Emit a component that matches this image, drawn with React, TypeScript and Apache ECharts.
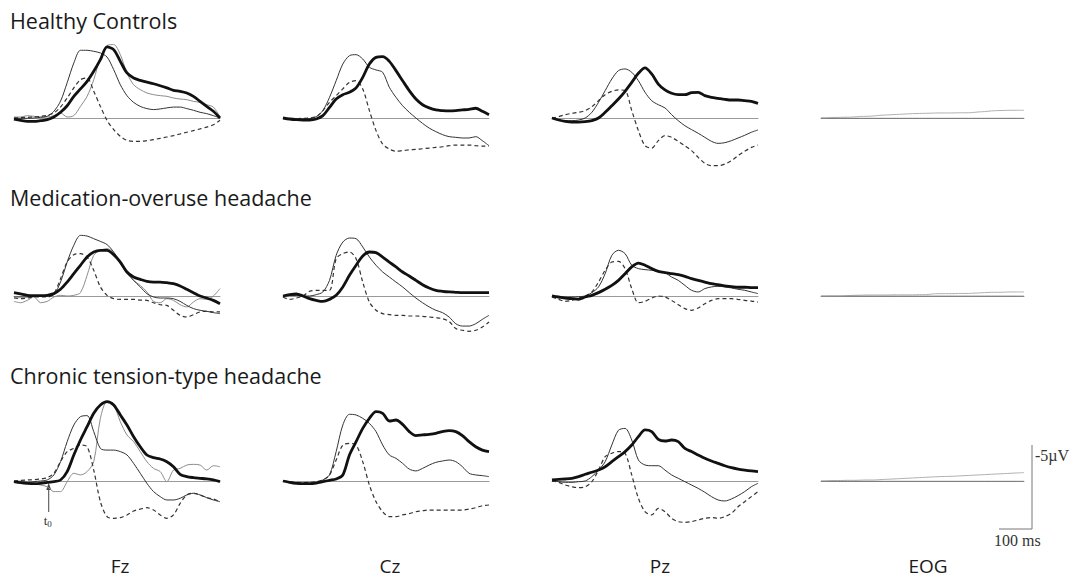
import React, { useEffect, useRef } from "react";
import * as echarts from "echarts";

// time axis (ms), 20 ms steps
const T = [-100,-80,-60,-40,-20,0,20,40,60,80,100,120,140,160,180,200,220,240,260,280,300,320,340,360,380,400,420,440,460,480,500,520];

const GROUPS = ["Healthy Controls", "Medication-overuse headache", "Chronic tension-type headache"];
const CHANNELS = ["Fz", "Cz", "Pz", "EOG"];

// ---- Healthy Controls (µV, negative up)
const HC_FZ_THIN = [0,0.02,0.02,0,-0.04,-0.1,-0.4,-1.0,-2.1,-3.27,-4.03,-4.03,-3.97,-3.87,-3.63,-2.88,-1.98,-1.33,-0.93,-0.69,-0.56,-0.5,-0.54,-0.6,-0.65,-0.65,-0.56,-0.46,-0.34,-0.26,-0.14,0];
const HC_FZ_THICK = [0.06,0.14,0.2,0.2,0.16,0.1,-0.06,-0.34,-0.73,-1.29,-1.73,-2.18,-2.78,-3.47,-4.23,-4.07,-3.37,-2.68,-2.38,-2.24,-2.14,-2.04,-1.92,-1.79,-1.65,-1.59,-1.49,-1.29,-0.99,-0.69,-0.4,0];
const HC_FZ_GRAY = [-0.06,-0.06,-0.14,-0.1,-0.06,-0.06,-0.14,-0.3,-0.06,-0.14,-0.69,-1.29,-2.28,-3.59,-4.31,-4.37,-3.77,-2.68,-1.98,-1.69,-1.49,-1.39,-1.33,-1.29,-1.19,-1.13,-1.09,-0.99,-0.93,-0.79,-0.65,-0.06];
const HC_FZ_DASH = [0,-0.02,-0.04,-0.06,-0.1,-0.16,-0.3,-0.65,-1.19,-1.79,-2.28,-2.38,-1.59,-0.69,0.14,0.69,1.09,1.33,1.39,1.39,1.35,1.29,1.21,1.13,1.05,0.95,0.85,0.75,0.65,0.54,0.4,0.14];
const HC_CZ_THIN = [0,0.04,0.06,0.06,0.04,-0.08,-0.44,-1.23,-2.22,-3.21,-3.71,-3.77,-3.51,-3.02,-2.86,-2.72,-1.83,-1.23,-0.73,-0.34,0,0.32,0.6,0.81,0.99,1.11,1.15,1.19,1.19,1.11,1.35,1.65];
const HC_CZ_THICK = [0,0.06,0.1,0.12,0.12,0.06,-0.14,-0.63,-1.13,-1.39,-1.53,-1.79,-2.42,-3.21,-3.61,-3.65,-3.37,-2.82,-2.22,-1.63,-1.13,-0.79,-0.6,-0.48,-0.44,-0.42,-0.44,-0.48,-0.52,-0.58,-0.4,-0.2];
const HC_CZ_DASH = [0,0.04,0.04,0.02,0,-0.08,-0.44,-0.93,-1.33,-1.73,-2.12,-2.22,-1.73,-0.44,0.75,1.55,1.85,1.98,1.94,1.9,1.87,1.83,1.79,1.75,1.71,1.65,1.61,1.61,1.61,1.65,1.67,1.67];
const HC_PZ_THIN = [0,0.12,0.16,0.16,0.12,0,-0.34,-0.93,-1.63,-2.32,-2.82,-2.92,-2.72,-2.22,-1.53,-1.03,-0.79,-0.6,-0.2,0.16,0.46,0.69,0.91,1.15,1.39,1.51,1.47,1.35,1.19,1.03,0.85,0.71];
const HC_PZ_THICK = [0,0.12,0.2,0.24,0.24,0.22,0.16,0,-0.34,-0.73,-1.13,-1.59,-2.12,-2.66,-2.98,-2.62,-2.02,-1.67,-1.47,-1.39,-1.39,-1.51,-1.53,-1.33,-1.23,-1.17,-1.11,-1.07,-1.07,-1.03,-0.99,-0.87];
const HC_PZ_DASH = [0,-0.08,-0.2,-0.28,-0.34,-0.44,-0.67,-1.03,-1.39,-1.59,-1.67,-1.63,-0.44,0.75,1.65,1.79,1.35,1.05,1.15,1.39,1.65,1.94,2.34,2.7,2.84,2.84,2.74,2.54,2.24,1.98,1.75,1.61];
const HC_EOG_UP = [-0.02,-0.02,-0.03,-0.04,-0.05,-0.06,-0.09,-0.1,-0.12,-0.16,-0.18,-0.2,-0.22,-0.24,-0.26,-0.27,-0.28,-0.29,-0.3,-0.3,-0.3,-0.31,-0.31,-0.32,-0.36,-0.38,-0.42,-0.44,-0.45,-0.46,-0.46,-0.46];
const HC_EOG_FLAT = [0.02,0.02,0.02,0.02,0.02,0.02,0.02,0.02,0.02,0.02,0.02,0.02,0.02,0.02,0.02,0.02,0.02,0.02,0.02,0.02,0.02,0.02,0.02,0.02,0.02,0.02,0.02,0.02,0.02,0.02,0.02,0.02];

// ---- Medication-overuse headache
const MOH_FZ_THIN = [0.06,0.06,0.06,0.02,0,0,-0.08,-0.83,-2.02,-3.02,-3.61,-3.57,-3.41,-3.25,-3.06,-2.62,-2.02,-1.43,-0.93,-0.54,-0.14,0.06,0.12,0.12,0.16,0.32,0.56,0.75,0.85,0.91,0.99,1.05];
const MOH_FZ_THICK = [-0.2,-0.12,-0.04,-0.02,-0.02,-0.04,-0.14,-0.4,-0.83,-1.33,-1.83,-2.32,-2.62,-2.72,-2.72,-2.46,-2.02,-1.43,-1.13,-0.99,-0.87,-0.83,-0.83,-0.79,-0.73,-0.6,-0.4,-0.2,0,0.12,0.26,0.46];
const MOH_FZ_GRAY = [0.32,0.4,0.26,0.06,0.4,0.32,0.06,-0.04,0,-0.04,-0.2,-1.23,-2.42,-2.72,-2.82,-2.58,-1.93,-1.33,-0.93,-0.63,-0.24,0.32,0.4,0.16,0.26,0.52,0.65,0.36,0.16,0.2,0,-0.44];
const MOH_FZ_DASH = [0.12,0.16,0.12,0.06,0.06,0.06,-0.14,-1.03,-2.02,-2.46,-2.52,-2.32,-1.53,-0.54,-0.04,0.16,0.2,0.2,0.2,0.24,0.26,0.4,0.52,0.56,0.85,1.15,1.25,1.11,0.95,0.91,0.95,0.95];
const MOH_CZ_THIN = [0,-0.04,-0.04,0,0,-0.08,-0.24,-0.93,-2.42,-3.21,-3.45,-3.41,-2.92,-2.32,-1.83,-1.43,-1.13,-0.83,-0.54,-0.2,0.12,0.4,0.65,0.85,0.99,1.25,1.65,1.79,1.79,1.65,1.39,1.15];
const MOH_CZ_THICK = [0,-0.08,-0.12,0,0.16,0.26,0.32,0.2,-0.04,-0.54,-1.23,-1.83,-2.38,-2.62,-2.58,-2.32,-2.02,-1.73,-1.43,-1.19,-0.93,-0.67,-0.48,-0.34,-0.28,-0.24,-0.22,-0.2,-0.2,-0.2,-0.2,-0.2];
const MOH_CZ_DASH = [0.06,0.2,0.12,0,-0.28,-0.34,-0.34,-0.34,-2.22,-2.52,-2.62,-2.22,-0.83,0.36,0.85,1.05,1.11,1.15,1.15,1.19,1.19,1.21,1.25,1.29,1.35,1.51,1.94,2.04,2.1,2.04,1.85,1.55];
const MOH_PZ_THIN = [0,0.04,0.06,0.06,0.04,0,-0.2,-0.54,-1.33,-2.42,-2.72,-2.52,-1.83,-1.63,-1.57,-1.53,-1.47,-1.39,-1.13,-0.93,-0.63,-0.34,-0.24,-0.44,-0.54,-0.58,-0.54,-0.48,-0.4,-0.34,-0.24,-0.14];
const MOH_PZ_THICK = [0,0.06,0.12,0.16,0.2,0.06,-0.04,-0.2,-0.4,-0.63,-0.93,-1.33,-1.73,-1.96,-1.83,-1.63,-1.47,-1.39,-1.33,-1.27,-1.17,-1.03,-0.93,-0.83,-0.73,-0.67,-0.6,-0.56,-0.52,-0.52,-0.5,-0.5];
const MOH_PZ_DASH = [0.06,0.2,0.32,0.26,0.12,0,-0.24,-0.83,-1.53,-2.02,-2.06,-1.63,-0.44,0.4,0.32,0.12,0,0.06,0.26,0.52,0.75,0.85,0.71,0.46,0.26,0.16,0.16,0.16,0.2,0.26,0.3,0.36];
const MOH_EOG_UP = [0,0,0,0,-0.02,-0.04,-0.05,-0.06,-0.06,-0.06,-0.06,-0.07,-0.07,-0.07,-0.07,-0.08,-0.08,-0.12,-0.14,-0.14,-0.14,-0.15,-0.15,-0.16,-0.18,-0.2,-0.22,-0.22,-0.23,-0.24,-0.24,-0.24];
const MOH_EOG_FLAT = [0.01,0.01,0.01,0.01,0.01,0.01,0.01,0.01,0.01,0.01,0.01,0.01,0.01,0.01,0.01,0.01,0.01,0.01,0.01,0.01,0.01,0.01,0.01,0.01,0.01,0.01,0.01,0.01,0.01,0.01,0.01,0.01];

// ---- Chronic tension-type headache
const CTTH_FZ_THIN = [0.04,0.08,0.08,0.04,0,-0.06,-0.36,-1.15,-2.34,-3.33,-3.83,-3.89,-2.94,-1.94,-1.84,-1.84,-1.75,-1.55,-1.05,-0.46,0.14,0.63,0.93,1.13,1.13,1.03,0.83,0.73,0.83,0.99,1.13,1.23];
const CTTH_FZ_THICK = [0.04,0.1,0.14,0.16,0.14,0.08,0.04,-0.06,-0.56,-1.55,-2.44,-3.23,-4.03,-4.52,-4.72,-4.52,-3.93,-3.33,-2.64,-2.04,-1.55,-1.39,-1.31,-1.15,-0.85,-0.4,-0.26,-0.2,-0.16,-0.12,-0.06,0.04];
const CTTH_FZ_GRAY = [0.04,0,0.04,0.14,0.24,0.34,0.63,0.63,0.04,-0.46,-0.36,-0.56,-1.15,-3.73,-4.72,-4.52,-3.53,-2.74,-2.34,-1.75,-1.15,-0.75,-0.56,0.04,-0.65,-0.75,-0.95,-0.99,-0.95,-0.65,-0.91,-0.85];
const CTTH_FZ_DASH = [0,-0.04,-0.06,-0.08,-0.12,-0.2,-0.46,-1.15,-1.75,-1.94,-2.14,-2.04,-0.65,1.23,2.12,2.22,2.18,2.02,1.79,1.67,1.59,1.73,2.02,2.22,2.02,1.33,0.83,0.73,0.83,0.99,1.07,1.23];
const CTTH_CZ_THIN = [0,0.08,0.14,0.16,0.14,0.08,-0.06,-0.36,-1.75,-3.33,-3.97,-3.93,-3.73,-3.43,-2.94,-2.14,-1.55,-1.35,-1.05,-0.71,-0.6,-0.75,-0.95,-1.11,-1.19,-1.25,-1.15,-0.85,-0.46,-0.36,-0.32,-0.26];
const CTTH_CZ_THICK = [0,0.08,0.14,0.16,0.16,0.12,0.04,-0.04,-0.12,-0.36,-1.55,-2.34,-3.13,-3.73,-4.13,-4.03,-3.57,-3.63,-3.37,-2.94,-2.7,-2.74,-2.78,-2.84,-2.94,-3,-2.94,-2.7,-2.34,-2.04,-1.84,-1.75];
const CTTH_CZ_DASH = [0,0.04,0.08,0.1,0.08,0.04,-0.06,-0.36,-1.25,-2.14,-2.24,-2.14,-1.15,0.24,1.23,1.83,2.12,2.12,2.02,1.94,1.83,1.77,1.73,1.73,1.73,1.73,1.73,1.73,1.67,1.59,1.47,1.43];
const CTTH_PZ_THIN = [0,0.04,0.08,0.08,0.04,0,-0.26,-0.65,-1.15,-2.14,-3.02,-3.13,-2.44,-1.25,-0.95,-0.91,-0.91,-0.65,-0.36,-0.16,0.04,0.24,0.44,0.67,0.93,1.13,1.19,1.07,0.87,0.63,0.34,0.14];
const CTTH_PZ_THICK = [-0.06,-0.1,-0.12,-0.16,-0.26,-0.4,-0.52,-0.65,-0.85,-1.15,-1.45,-1.75,-2.14,-2.64,-3.04,-2.94,-2.48,-2.38,-2.44,-2.34,-1.94,-1.75,-1.55,-1.35,-1.19,-1.05,-0.91,-0.79,-0.71,-0.65,-0.6,-0.56];
const CTTH_PZ_DASH = [0,0.08,0.24,0.34,0.4,0.34,0.04,-0.65,-1.45,-1.65,-1.75,-1.65,-0.36,1.03,1.83,2.02,1.63,1.83,2.22,2.42,2.46,2.42,2.32,2.22,2.18,2.22,2.12,1.92,1.53,1.23,0.93,0.63];
const CTTH_EOG_UP = [-0.02,-0.02,-0.03,-0.03,-0.04,-0.04,-0.05,-0.06,-0.06,-0.08,-0.1,-0.12,-0.14,-0.16,-0.18,-0.2,-0.22,-0.24,-0.26,-0.27,-0.28,-0.3,-0.32,-0.34,-0.36,-0.38,-0.4,-0.42,-0.44,-0.46,-0.48,-0.5];
const CTTH_EOG_FLAT = [0.02,0.02,0.02,0.02,0.02,0.02,0.02,0.02,0.02,0.02,0.02,0.02,0.02,0.02,0.02,0.02,0.02,0.02,0.02,0.02,0.02,0.02,0.02,0.02,0.02,0.02,0.02,0.02,0.02,0.02,0.02,0.02];

type Kind = "gray" | "dash" | "thin" | "thick" | "eogUp" | "eogFlat";
const PANELS: [Kind, number[]][][][] = [
  [
    [["gray", HC_FZ_GRAY], ["dash", HC_FZ_DASH], ["thin", HC_FZ_THIN], ["thick", HC_FZ_THICK]],
    [["dash", HC_CZ_DASH], ["thin", HC_CZ_THIN], ["thick", HC_CZ_THICK]],
    [["dash", HC_PZ_DASH], ["thin", HC_PZ_THIN], ["thick", HC_PZ_THICK]],
    [["eogUp", HC_EOG_UP], ["eogFlat", HC_EOG_FLAT]],
  ],
  [
    [["gray", MOH_FZ_GRAY], ["dash", MOH_FZ_DASH], ["thin", MOH_FZ_THIN], ["thick", MOH_FZ_THICK]],
    [["dash", MOH_CZ_DASH], ["thin", MOH_CZ_THIN], ["thick", MOH_CZ_THICK]],
    [["dash", MOH_PZ_DASH], ["thin", MOH_PZ_THIN], ["thick", MOH_PZ_THICK]],
    [["eogUp", MOH_EOG_UP], ["eogFlat", MOH_EOG_FLAT]],
  ],
  [
    [["gray", CTTH_FZ_GRAY], ["dash", CTTH_FZ_DASH], ["thin", CTTH_FZ_THIN], ["thick", CTTH_FZ_THICK]],
    [["dash", CTTH_CZ_DASH], ["thin", CTTH_CZ_THIN], ["thick", CTTH_CZ_THICK]],
    [["dash", CTTH_PZ_DASH], ["thin", CTTH_PZ_THIN], ["thick", CTTH_PZ_THICK]],
    [["eogUp", CTTH_EOG_UP], ["eogFlat", CTTH_EOG_FLAT]],
  ],
];

const STYLES: Record<Kind, any> = {
  gray: { color: "#8c8c8c", width: 1 },
  dash: { color: "#333", width: 1.2, type: [4, 3] },
  thin: { color: "#333", width: 1 },
  thick: { color: "#111", width: 2.8 },
  eogUp: { color: "#b0b0b0", width: 1 },
  eogFlat: { color: "#777", width: 1 },
};

// layout
const COL_LEFT = [14, 283, 552, 821];
const COL_W = [206, 206, 206, 203];
const ROW_BASE = [118, 296, 481];
const PX_UV = 16.8;
const Y_MIN = -5;
const Y_MAX = 3;
const X_MIN = -100;
const X_MAX = 520;
const TITLE_Y = [20, 197, 375];
const LABEL_X = [120, 390, 660, 928];

export default function App() {
  const ref = useRef<HTMLDivElement>(null);
  useEffect(() => {
    if (!ref.current) return;
    const chart = echarts.init(ref.current, null, { renderer: "svg" });
    const grid: any[] = [];
    const xAxis: any[] = [];
    const yAxis: any[] = [];
    const series: any[] = [];
    let gi = 0;
    for (let r = 0; r < 3; r++) {
      for (let c = 0; c < 4; c++) {
        grid.push({
          left: COL_LEFT[c],
          top: ROW_BASE[r] + Y_MIN * PX_UV,
          width: COL_W[c],
          height: (Y_MAX - Y_MIN) * PX_UV,
          containLabel: false,
        });
        xAxis.push({
          gridIndex: gi, type: "value", min: X_MIN, max: X_MAX,
          axisLine: { show: true, onZero: true, lineStyle: { color: "#9a9a9a", width: 1 } },
          axisTick: { show: false }, axisLabel: { show: false }, splitLine: { show: false },
        });
        yAxis.push({
          gridIndex: gi, type: "value", min: Y_MIN, max: Y_MAX, inverse: true,
          axisLine: { show: false }, axisTick: { show: false }, axisLabel: { show: false }, splitLine: { show: false },
        });
        for (const [kind, arr] of PANELS[r][c]) {
          series.push({
            type: "line",
            name: `${GROUPS[r]} ${CHANNELS[c]} ${kind}`,
            xAxisIndex: gi, yAxisIndex: gi,
            symbol: "none", showSymbol: false, smooth: 0.3,
            clip: false,
            lineStyle: STYLES[kind],
            z: kind === "thick" ? 5 : kind === "thin" ? 4 : 3,
            data: T.map((t, i) => [t, arr[i]]),
          });
        }
        gi++;
      }
    }
    const graphic: any[] = [];
    GROUPS.forEach((g, r) => {
      graphic.push({
        type: "text", x: 10, y: TITLE_Y[r],
        style: { text: g, fontFamily: "Open Sans", fontSize: 21.5, fill: "#1a1a1a", textVerticalAlign: "middle" },
      });
    });
    CHANNELS.forEach((ch, c) => {
      graphic.push({
        type: "text", x: LABEL_X[c], y: 566,
        style: { text: ch, fontFamily: "Open Sans", fontSize: 19, fill: "#1a1a1a", textAlign: "center", textVerticalAlign: "middle" },
      });
    });
    // t0 arrow at stimulus onset
    const t0x = COL_LEFT[0] + ((0 - X_MIN) / (X_MAX - X_MIN)) * COL_W[0] + 1.5;
    graphic.push({ type: "line", shape: { x1: t0x, y1: 512, x2: t0x, y2: 486 }, style: { stroke: "#444", lineWidth: 1 } });
    graphic.push({ type: "polygon", shape: { points: [[t0x - 2.5, 490], [t0x, 483], [t0x + 2.5, 490]] }, style: { fill: "#444" } });
    graphic.push({
      type: "text", x: t0x - 5, y: 513,
      style: {
        text: "{a|t}{b|0}",
        rich: {
          a: { fontFamily: "Liberation Serif", fontSize: 13, fill: "#333" },
          b: { fontFamily: "Liberation Serif", fontSize: 9, fill: "#333", padding: [6, 0, 0, 0] },
        },
      },
    });
    // scale bar
    graphic.push({ type: "line", shape: { x1: 1032, y1: 445, x2: 1032, y2: 529 }, style: { stroke: "#777", lineWidth: 1 } });
    graphic.push({ type: "line", shape: { x1: 999, y1: 529, x2: 1032, y2: 529 }, style: { stroke: "#777", lineWidth: 1 } });
    graphic.push({
      type: "text", x: 1035, y: 455,
      style: { text: "-5µV", fontFamily: "Liberation Serif", fontSize: 16, fill: "#333", textVerticalAlign: "middle" },
    });
    graphic.push({
      type: "text", x: 994, y: 540,
      style: { text: "100 ms", fontFamily: "Liberation Serif", fontSize: 16, fill: "#333", textVerticalAlign: "middle" },
    });

    chart.setOption({
      animation: false,
      backgroundColor: "#ffffff",
      grid, xAxis, yAxis, series, graphic,
    });
    return () => chart.dispose();
  }, []);
  return (
    <div
      ref={ref}
      style={{ position: "fixed", left: 0, top: 0, width: 1071, height: 579, background: "#fff" }}
    />
  );
}
